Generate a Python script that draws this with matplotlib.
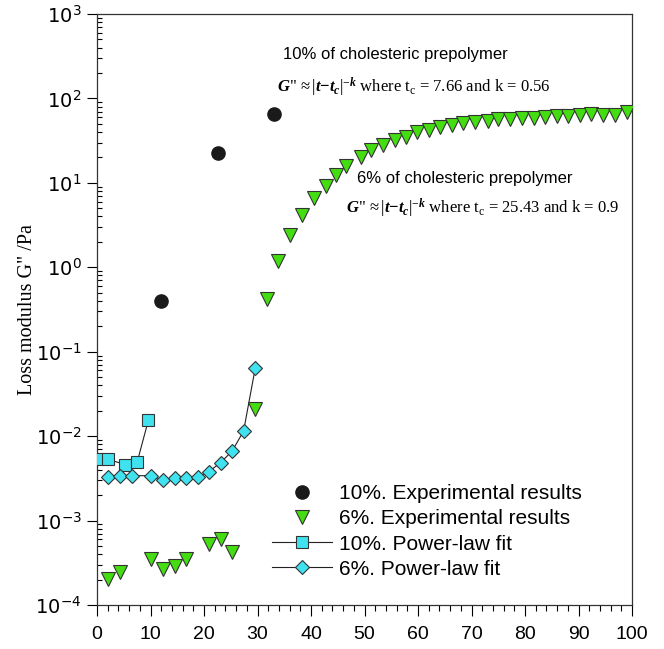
import matplotlib
matplotlib.use("Agg")
import matplotlib.pyplot as plt
import numpy as np
from matplotlib.ticker import FixedLocator, LogFormatterMathtext, MultipleLocator, NullFormatter

plt.rcParams['mathtext.fontset'] = 'custom'
plt.rcParams['mathtext.rm'] = 'Liberation Serif'
plt.rcParams['mathtext.it'] = 'Liberation Serif:italic'
plt.rcParams['mathtext.bf'] = 'Liberation Serif:bold'
plt.rcParams['mathtext.bfit'] = 'Liberation Serif:bold:italic'
plt.rcParams['axes.unicode_minus'] = False

# 10% experimental results
t_exp10 = [11.9, 22.6, 33.1]
g_exp10 = [0.40, 22.5, 65.0]

# 6% experimental results
t_exp6 = [2.1, 4.3, 10.1, 12.3, 14.5, 16.6, 20.9, 23.1, 25.3, 29.6,
          31.8, 33.9, 36.1, 38.3, 40.6, 42.8, 44.6, 46.5, 49.3, 51.3,
          53.4, 55.7, 57.8, 59.9, 62.0, 64.2, 66.4, 68.5, 70.7, 73.0,
          75.0, 77.2, 79.4, 81.6, 83.7, 85.9, 88.1, 90.3, 92.4, 94.6,
          96.8, 99.0]
g_exp6 = [0.000206, 0.000247, 0.000354, 0.00027, 0.000288, 0.000354, 0.00053, 0.000597, 0.000424, 0.0212,
          0.417, 1.18, 2.4, 4.2, 6.7, 9.1, 12.5, 16.0, 20.0, 24.6,
          28.3, 32.3, 35.4, 39.5, 42.4, 45.6, 48.5, 50.8, 53.2, 54.6,
          56.6, 56.6, 58.2, 58.2, 59.7, 61.9, 61.9, 63.6, 65.5, 63.6,
          63.6, 68.8]

# 10% power-law fit
t_fit10 = [0.0, 2.1, 5.3, 7.5, 9.6]
g_fit10 = [0.0053, 0.0053, 0.0046, 0.0049, 0.0154]

# 6% power-law fit
t_fit6 = [2.1, 4.3, 6.6, 10.1, 12.3, 14.5, 16.6, 18.8, 20.9, 23.1, 25.3, 27.4, 29.6]
g_fit6 = [0.0033, 0.0034, 0.0034, 0.0034, 0.0030, 0.0032, 0.00315, 0.0033, 0.0038, 0.00485, 0.0067, 0.0115, 0.065]

# axis ticks
decades = [1e-4, 1e-3, 1e-2, 1e-1, 1e0, 1e1, 1e2, 1e3]

cyan = '#40e2f0'
green = '#44dd11'
edge = '#333333'

fig = plt.figure(figsize=(6.64, 6.49), dpi=100)
ax = fig.add_axes([97 / 664, 44 / 649, (632 - 97) / 664, (605 - 14) / 649])

ax.plot(t_fit10, g_fit10, color='#222222', lw=0.8, marker='s', ms=8.5,
        mfc=cyan, mec=edge, mew=0.8, label='10%. Power-law fit', zorder=3)
ax.plot(t_fit6, g_fit6, color='#222222', lw=0.8, marker='D', ms=6.8,
        mfc=cyan, mec=edge, mew=0.8, label='6%. Power-law fit', zorder=3)
ax.plot(t_exp6, g_exp6, ls='none', marker='v', ms=9.5,
        mfc=green, mec=edge, mew=0.8, label='6%. Experimental results', zorder=4)
ax.plot(t_exp10, g_exp10, ls='none', marker='o', ms=9.5,
        mfc='#1a1a1a', mec='#1a1a1a', label='10%. Experimental results', zorder=4)

ax.set_yscale('log')
ax.set_xlim(0, 100)
ax.set_ylim(1e-4, 1e3)

ax.xaxis.set_major_locator(MultipleLocator(10))
ax.xaxis.set_minor_locator(MultipleLocator(2))
ax.yaxis.set_major_locator(FixedLocator(decades))
ax.yaxis.set_major_formatter(LogFormatterMathtext())
minors = [d * m for d in decades[:-1] for m in range(2, 10)]
ax.yaxis.set_minor_locator(FixedLocator(minors))
ax.yaxis.set_minor_formatter(NullFormatter())

ax.tick_params(axis='x', which='major', direction='out', length=8, width=0.8, pad=7,
               labelsize=14, top=False)
ax.tick_params(axis='x', which='minor', direction='out', length=4, width=0.8, top=False)
ax.tick_params(axis='y', which='major', direction='out', length=7, width=0.8, pad=4,
               labelsize=14, right=False)
ax.tick_params(axis='y', which='minor', direction='in', length=3.6, width=0.8, right=False)
for lab in ax.get_xticklabels():
    lab.set_fontfamily('Liberation Sans')
for sp in ax.spines.values():
    sp.set_linewidth(0.9)
    sp.set_color('#333333')

ax.set_ylabel('Loss modulus G" /Pa', family='Liberation Serif', fontsize=14.5, labelpad=-1)

# annotations
fig.text(283 / 664, 1 - 54 / 649, '10% of cholesteric prepolymer',
         family='Liberation Sans', fontsize=12, va='center')
fig.text(277 / 664, 1 - 87 / 649,
         r'$\mathbfit{G}$"$\,\approx|\mathbfit{t}\mathbf{-}\mathbfit{t}_{\mathbfit{c}}|^{-\mathbfit{k}}$ where t$_{\rm c}$ = 7.66 and k = 0.56',
         family='Liberation Serif', fontsize=12, va='center')
fig.text(357 / 664, 1 - 178 / 649, '6% of cholesteric prepolymer',
         family='Liberation Sans', fontsize=12, va='center')
fig.text(346 / 664, 1 - 208 / 649,
         r'$\mathbfit{G}$"$\,\approx|\mathbfit{t}\mathbf{-}\mathbfit{t}_{\mathbfit{c}}|^{-\mathbfit{k}}$ where t$_{\rm c}$ = 25.43 and k = 0.9',
         family='Liberation Serif', fontsize=12, va='center')

handles, labels = ax.get_legend_handles_labels()
order = [3, 2, 0, 1]
leg = fig.legend([handles[i] for i in order], [labels[i] for i in order],
                 loc='upper left', bbox_to_anchor=(272 / 664, 1 - 484 / 649),
                 frameon=False, borderpad=0, borderaxespad=0,
                 handlelength=2.9, handletextpad=0.3, labelspacing=0.3,
                 prop={'family': 'Liberation Sans', 'size': 15})

fig.savefig('out.png', dpi=100)
